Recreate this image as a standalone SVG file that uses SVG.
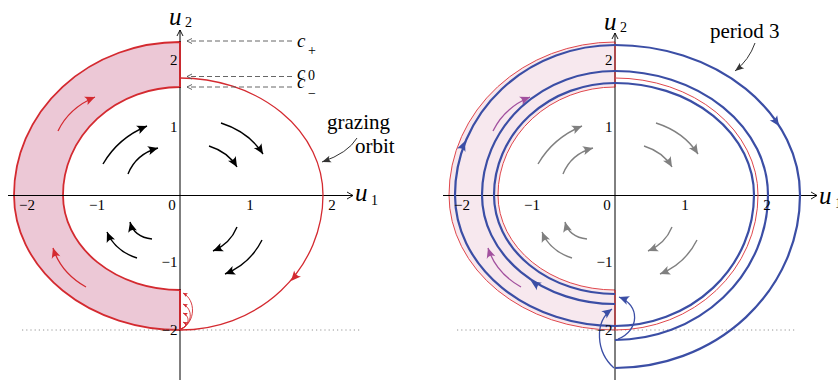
<svg xmlns="http://www.w3.org/2000/svg" xmlns:xlink="http://www.w3.org/1999/xlink" width="838" height="380" viewBox="0 0 838 380">
<style>
.ax{stroke:#000;stroke-width:1;fill:none}
.axh{stroke:#000;stroke-width:0.9;fill:none}
.band{stroke:#d42a30;stroke-width:1.8;fill:#ecc8d6}
.band2{stroke:#e0474c;stroke-width:1;fill:#f7e8ee}
.graze{stroke:#d42a30;stroke-width:1.3;fill:none}
.graze2{stroke:#e0474c;stroke-width:1;fill:none}
.blue{stroke:#3b4ea5;stroke-width:2.2;fill:none}
.bres{stroke:#3b4ea5;stroke-width:1.3;fill:none;marker-end:url(#mBlue)}
.blk{stroke:#000;stroke-width:1.4;fill:none;marker-end:url(#mBlack)}
.gry{stroke:#808080;stroke-width:1.4;fill:none;marker-end:url(#mGray)}
.rarr{stroke:#d42a30;stroke-width:1.3;fill:none;marker-end:url(#mRed)}
.parr{stroke:#a2509e;stroke-width:1.3;fill:none;marker-end:url(#mPurple)}
.rs{stroke:#d42a30;stroke-width:0.9;fill:none;marker-end:url(#mRedS)}
.dash{stroke:#555;stroke-width:0.9;stroke-dasharray:5,3;fill:none;marker-end:url(#mDash)}
.dot{stroke:#888;stroke-width:0.9;stroke-dasharray:1.2,3;fill:none}
.lead{stroke:#333;stroke-width:1;fill:none;marker-end:url(#mLead)}
.tick{font-family:'Liberation Serif','Times New Roman',serif;font-size:15px;fill:#000}
.var{font-family:'Liberation Serif','Times New Roman',serif;font-style:italic;font-size:25px;fill:#000}
.cv{font-family:'Liberation Serif','Times New Roman',serif;font-style:italic;font-size:19px;fill:#000}
.sub{font-family:'Liberation Serif','Times New Roman',serif;font-size:14px;fill:#000}
.lbl{font-family:'Liberation Serif','Times New Roman',serif;font-size:21px;fill:#000}
</style>
<defs>
<marker id="mBlack" viewBox="-11 -6 12 12" refX="0" refY="0" markerWidth="12" markerHeight="12" markerUnits="userSpaceOnUse" orient="auto"><path d="M0,0 L-10,-4.5 Q-6.5,0 -10,4.5 Z" fill="#000"/></marker>
<marker id="mGray" viewBox="-11 -6 12 12" refX="0" refY="0" markerWidth="12" markerHeight="12" markerUnits="userSpaceOnUse" orient="auto"><path d="M0,0 L-10,-4.5 Q-6.5,0 -10,4.5 Z" fill="#808080"/></marker>
<marker id="mRed" viewBox="-11 -6 12 12" refX="0" refY="0" markerWidth="12" markerHeight="12" markerUnits="userSpaceOnUse" orient="auto"><path d="M0,0 L-10,-4.5 Q-6.5,0 -10,4.5 Z" fill="#d42a30"/></marker>
<marker id="mPurple" viewBox="-11 -6 12 12" refX="0" refY="0" markerWidth="12" markerHeight="12" markerUnits="userSpaceOnUse" orient="auto"><path d="M0,0 L-10,-4.5 Q-6.5,0 -10,4.5 Z" fill="#a2509e"/></marker>
<marker id="mBlue" viewBox="-11 -6 12 12" refX="0" refY="0" markerWidth="12" markerHeight="12" markerUnits="userSpaceOnUse" orient="auto"><path d="M0,0 L-10,-4.5 Q-6.5,0 -10,4.5 Z" fill="#3b4ea5"/></marker>
<marker id="mRedS" viewBox="-5 -3 6 6" refX="0" refY="0" markerWidth="6" markerHeight="6" markerUnits="userSpaceOnUse" orient="auto"><path d="M0,0 L-4.5,-2 Q-3,0 -4.5,2 Z" fill="#d42a30"/></marker>
<marker id="mDash" viewBox="-6 -4 7 8" refX="0" refY="0" markerWidth="7" markerHeight="8" markerUnits="userSpaceOnUse" orient="auto"><path d="M-5,-2.5 L0,0 L-5,2.5" fill="none" stroke="#555" stroke-width="0.9"/></marker>
<marker id="mLead" viewBox="-10 -5 11 10" refX="0" refY="0" markerWidth="11" markerHeight="10" markerUnits="userSpaceOnUse" orient="auto"><path d="M0,0 L-9,-3.5 Q-6,0 -9,3.5 Z" fill="#333"/></marker>
<path id="hd" d="M0,0 L-10,-4.5 Q-6.5,0 -10,4.5 Z"/>
</defs>

<!-- LEFT PANEL -->
<g id="left-band">
<path class="band" d="M180,42 A166,153 0 0 0 14,195 A166,135 0 0 0 180,330 L180,290 A117,95 0 0 1 63,195 A117,108 0 0 1 180,87 Z"/>
</g>
<g id="left-axes">
<path class="dot" d="M22,330 H360"/>
<path class="ax" d="M8,195.5 H353"/>
<path class="axh" d="M347,192 L353,195.5 L347,199"/>
<path class="ax" d="M180,30 V380"/>
<path class="axh" d="M177,36 L180,30 L183,36"/>
<path class="band" d="M180,42 V87 M180,290 V330" fill="none"/>
</g>
<g id="left-grazing">
<path class="graze" d="M180,78 A143,117 0 0 1 323,195 A143,135 0 0 1 180,330"/>
<use href="#hd" fill="#d42a30" transform="translate(291,281) rotate(131)"/>
</g>
<g id="left-resets">
<path class="rs" d="M181,329 C196,322 196,300 183,293"/>
<path class="rs" d="M181,329 C193,323 193,309 183,304"/>
<path class="rs" d="M181,329 C190,325 190,316 183,313"/>
<path class="rs" d="M181,329 C187,327 187,324 183,322"/>
</g>
<g id="left-flow">
<path class="blk" d="M103,164 Q118,138 147,126"/>
<path class="blk" d="M128,174 Q136,154 158,148"/>
<path class="blk" d="M221,123 Q249,132 263,154"/>
<path class="blk" d="M209,146 Q228,152 237,167"/>
<path class="blk" d="M152,239 Q134,237 130,222"/>
<path class="blk" d="M137,258 Q115,251 107,232"/>
<path class="blk" d="M237,227 Q230,244 213,251"/>
<path class="blk" d="M262,240 Q250,264 225,274"/>
<path class="rarr" d="M58,131 Q69,108 95,97"/>
<path class="rarr" d="M86,287 Q61,273 53,248"/>
</g>
<g id="left-levels">
<path class="dash" d="M292,41 H187"/>
<path class="dash" d="M292,76.5 H187"/>
<path class="dash" d="M292,87 H187"/>
<text class="cv" x="297" y="47">c</text><text class="sub" x="308" y="55">+</text>
<text class="cv" x="297" y="78.5">c</text><text class="sub" x="308" y="80">0</text>
<text class="cv" x="297" y="88">c</text><text class="sub" x="308" y="98">−</text>
</g>
<g id="left-labels">
<text class="var" x="169" y="25">u</text><text class="sub" x="185" y="27">2</text>
<text class="var" x="355" y="201">u</text><text class="sub" x="371" y="205">1</text>
<text class="tick" x="27" y="210" text-anchor="middle">−2</text>
<text class="tick" x="97" y="210" text-anchor="middle">−1</text>
<text class="tick" x="172" y="210" text-anchor="middle">0</text>
<text class="tick" x="250" y="210" text-anchor="middle">1</text>
<text class="tick" x="332" y="210" text-anchor="middle">2</text>
<text class="tick" x="177.5" y="65" text-anchor="end">2</text>
<text class="tick" x="177.5" y="132" text-anchor="end">1</text>
<text class="tick" x="177.5" y="267" text-anchor="end">−1</text>
<text class="tick" x="177.5" y="335" text-anchor="end">−2</text>
<text class="lbl" x="327" y="129">grazing</text>
<text class="lbl" x="355" y="153">orbit</text>
<path class="lead" d="M357,138 Q348,153 322,162"/>
</g>

<!-- RIGHT PANEL -->
<g id="right-band">
<path class="band2" d="M615,42 A166,153 0 0 0 449,195 A166,135 0 0 0 615,330 L615,290 A117,95 0 0 1 498,195 A117,108 0 0 1 615,87 Z"/>
</g>
<g id="right-axes">
<path class="dot" d="M457,330 H795"/>
<path class="ax" d="M443,195.5 H817"/>
<path class="axh" d="M811,192 L817,195.5 L811,199"/>
<path class="ax" d="M615,33 V380"/>
<path class="axh" d="M612,39 L615,33 L618,39"/>
<path class="band2" d="M615,42 V87 M615,290 V330" fill="none"/>
</g>
<g id="right-grazing">
<path class="graze2" d="M615,78 A143,117 0 0 1 758,195 A143,135 0 0 1 615,330"/>
</g>
<g id="right-flow">
<path class="gry" d="M538,164 Q553,138 582,126"/>
<path class="gry" d="M563,174 Q571,154 593,148"/>
<path class="gry" d="M656,123 Q684,132 698,154"/>
<path class="gry" d="M644,146 Q663,152 672,167"/>
<path class="gry" d="M587,239 Q569,237 565,222"/>
<path class="gry" d="M572,258 Q550,251 542,232"/>
<path class="gry" d="M672,227 Q665,244 648,251"/>
<path class="gry" d="M697,240 Q685,264 660,274"/>
<path class="parr" d="M493,131 Q504,108 530,97"/>
<path class="parr" d="M521,287 Q496,273 488,248"/>
</g>
<g id="period3-orbit">
<path class="blue" d="M615,326 A160,131 0 0 1 455,195 A160,150 0 0 1 615,45 A185,150 0 0 1 800,195 A185,173 0 0 1 615,368"/>
<path class="blue" d="M615,304 A133,109 0 0 1 482,195 A133,124 0 0 1 615,71 A153,124 0 0 1 768,195 A153,145 0 0 1 615,340"/>
<path class="blue" d="M615,294 A121,99 0 0 1 494,195 A121,112 0 0 1 615,83 A139,112 0 0 1 754,195 A139,131 0 0 1 615,326"/>
<use href="#hd" fill="#3b4ea5" transform="translate(779,126) rotate(56)"/>
<use href="#hd" fill="#3b4ea5" transform="translate(465,141) rotate(-68)"/>
<use href="#hd" fill="#3b4ea5" transform="translate(531,281) rotate(-147)"/>
<path class="bres" d="M614,368 C596,352 594,322 612,309"/>
<path class="bres" d="M618,339 C640,330 640,305 619,297"/>
</g>
<g id="right-labels">
<text class="var" x="604" y="30">u</text><text class="sub" x="620" y="32">2</text>
<text class="var" x="819" y="204">u</text><text class="sub" x="835" y="208">1</text>
<text class="tick" x="462" y="210" text-anchor="middle">−2</text>
<text class="tick" x="532" y="210" text-anchor="middle">−1</text>
<text class="tick" x="607" y="210" text-anchor="middle">0</text>
<text class="tick" x="685" y="210" text-anchor="middle">1</text>
<text class="tick" x="767" y="210" text-anchor="middle">2</text>
<text class="tick" x="612.5" y="65" text-anchor="end">2</text>
<text class="tick" x="612.5" y="132" text-anchor="end">1</text>
<text class="tick" x="612.5" y="267" text-anchor="end">−1</text>
<text class="tick" x="612.5" y="335" text-anchor="end">−2</text>
<text class="lbl" x="710" y="38">period 3</text>
<path class="lead" d="M755,43 Q749,60 735,71"/>
</g>
</svg>
